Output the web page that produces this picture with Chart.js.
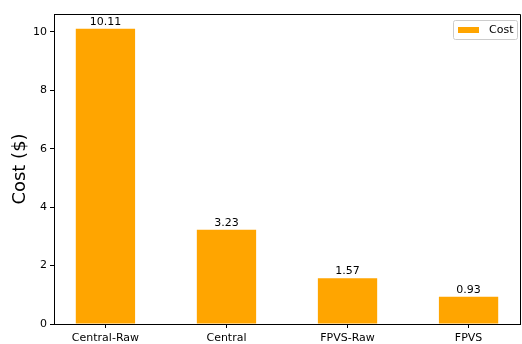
<!DOCTYPE html>
<html>
<head>
<meta charset="utf-8">
<script src="https://cdn.jsdelivr.net/npm/chart.js@4"></script>
<style>
  html, body { margin: 0; padding: 0; background: #fff; }
  #wrap { width: 522px; height: 344px; position: relative; }
</style>
</head>
<body>
<div id="wrap"><canvas id="c"></canvas></div>
<script>
const categories = ['Central-Raw', 'Central', 'FPVS-Raw', 'FPVS'];
const costs = [10.11, 3.23, 1.57, 0.93];
const costLabels = ['10.11', '3.23', '1.57', '0.93'];
const yTicks = [0, 2, 4, 6, 8, 10];
const seriesName = 'Cost';
const barColor = '#FFA500';
const FONT = "'DejaVu Sans', sans-serif";

const boxPlugin = {
  id: 'box',
  afterDraw(chart) {
    const {ctx, chartArea: a} = chart;
    ctx.save();
    ctx.strokeStyle = '#000';
    ctx.lineWidth = 1;
    ctx.beginPath();
    ctx.moveTo(Math.round(a.left), Math.round(a.top) + 0.5);
    ctx.lineTo(Math.round(a.right) + 0.5, Math.round(a.top) + 0.5);
    ctx.lineTo(Math.round(a.right) + 0.5, Math.round(a.bottom));
    ctx.stroke();
    ctx.restore();
  }
};

const barLabelPlugin = {
  id: 'barLabels',
  afterDatasetsDraw(chart) {
    const {ctx} = chart;
    const meta = chart.getDatasetMeta(0);
    ctx.save();
    ctx.font = '11px ' + FONT;
    ctx.fillStyle = '#000';
    ctx.textAlign = 'center';
    ctx.textBaseline = 'alphabetic';
    meta.data.forEach((bar, i) => {
      ctx.fillText(costLabels[i], bar.x, bar.y - 4);
    });
    ctx.restore();
  }
};

const legendPlugin = {
  id: 'innerLegend',
  afterDraw(chart) {
    const {ctx, chartArea: a} = chart;
    ctx.save();
    ctx.font = '11px ' + FONT;
    const tw = ctx.measureText(seriesName).width;
    const w = 5 + 21 + 10 + tw + 4;
    const h = 19;
    const x = a.right - 3 - w;
    const y = a.top + 6;
    ctx.fillStyle = 'rgba(255,255,255,0.8)';
    ctx.strokeStyle = '#cccccc';
    ctx.lineWidth = 1;
    ctx.beginPath();
    if (ctx.roundRect) ctx.roundRect(Math.round(x) + 0.5, Math.round(y) + 0.5, Math.round(w), h, 2);
    else ctx.rect(Math.round(x) + 0.5, Math.round(y) + 0.5, Math.round(w), h);
    ctx.fill();
    ctx.stroke();
    ctx.fillStyle = barColor;
    ctx.fillRect(Math.round(x) + 5, Math.round(y) + 7, 21, 6);
    ctx.fillStyle = '#000';
    ctx.textBaseline = 'middle';
    ctx.textAlign = 'left';
    ctx.fillText(seriesName, Math.round(x) + 36, Math.round(y) + 10);
    ctx.restore();
  }
};

new Chart(document.getElementById('c'), {
  type: 'bar',
  data: {
    datasets: [{
      label: seriesName,
      data: costs.map((v, i) => ({x: i, y: v})),
      backgroundColor: barColor,
      borderWidth: 0,
      barPercentage: 0.49,
      categoryPercentage: 1.0
    }]
  },
  options: {
    responsive: true,
    maintainAspectRatio: false,
    animation: false,
    devicePixelRatio: 1,
    layout: { padding: { top: 14, right: 2, left: 0, bottom: 0 } },
    plugins: {
      legend: { display: false },
      tooltip: { enabled: false }
    },
    scales: {
      x: {
        type: 'linear',
        offset: false,
        min: -0.425,
        max: 3.425,
        afterBuildTicks(scale) {
          scale.ticks = categories.map((c, i) => ({value: i}));
        },
        afterFit(scale) { scale.height = 20; },
        ticks: {
          autoSkip: false,
          maxRotation: 0,
          padding: 4,
          color: '#000',
          font: { family: FONT, size: 11 },
          callback: (v) => categories[v] ?? ''
        },
        grid: {
          display: true,
          offset: false,
          drawOnChartArea: false,
          drawTicks: true,
          tickLength: 4,
          color: '#000',
          lineWidth: 1
        },
        border: { display: true, color: '#000', width: 1 }
      },
      y: {
        type: 'linear',
        min: 0,
        max: 10.6155,
        afterBuildTicks(scale) {
          scale.ticks = yTicks.map(v => ({value: v}));
        },
        afterFit(scale) { scale.width = 54; },
        ticks: {
          padding: 3,
          color: '#000',
          font: { family: FONT, size: 11 },
          callback: (v) => String(v)
        },
        grid: {
          display: true,
          drawOnChartArea: false,
          drawTicks: true,
          tickLength: 4,
          color: '#000',
          lineWidth: 1
        },
        border: { display: true, color: '#000', width: 1 },
        title: {
          display: true,
          text: 'Cost ($)',
          color: '#000',
          font: { family: FONT, size: 18, lineHeight: 1.2 },
          padding: { top: 10, bottom: 0 }
        }
      }
    }
  },
  plugins: [boxPlugin, barLabelPlugin, legendPlugin]
});
</script>
</body>
</html>
